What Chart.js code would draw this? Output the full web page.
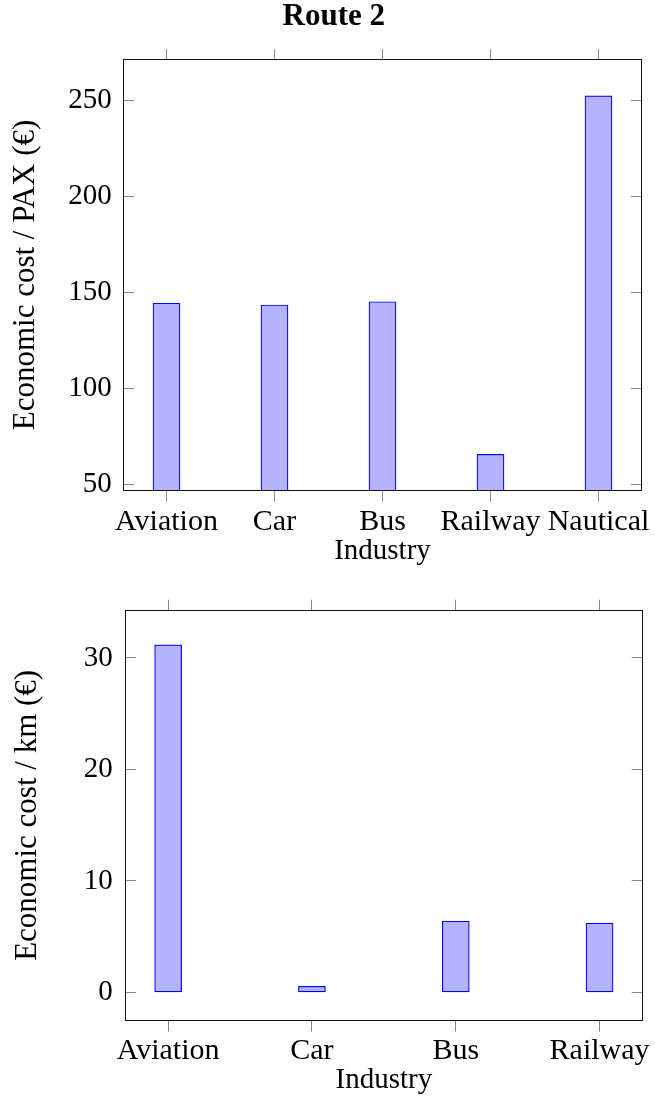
<!DOCTYPE html>
<html>
<head>
<meta charset="utf-8">
<script src="https://cdn.jsdelivr.net/npm/chart.js@4.4.1/dist/chart.umd.min.js"></script>
<style>
  body { margin: 0; background: #fff; }
  #wrap { position: relative; width: 655px; height: 1101px; }
  canvas { position: absolute; left: 0; }
</style>
</head>
<body>
<div id="wrap">
  <canvas id="chartPax" width="655" height="570" style="top:0"></canvas>
  <canvas id="chartKm" width="655" height="531" style="top:570px"></canvas>
</div>
<script>
// datos
const industriasPax = ["Aviation", "Car", "Bus", "Railway", "Nautical"];
const costePax = [144.3, 143.4, 145.1, 65.5, 252.5];
const ticksPax = [50, 100, 150, 200, 250];

const industriasKm = ["Aviation", "Car", "Bus", "Railway"];
const costeKm = [31.17, 0.54, 6.38, 6.21];
const ticksKm = [0, 10, 20, 30];

Chart.defaults.font.family = "'Liberation Serif', 'Times New Roman', serif";
Chart.defaults.color = "#000";

const GRIS = "#888";
const NEGRO = "#111";

function crearGrafica(id, cfg) {
    const n = cfg.labels.length;
    const xMin = -0.1 * (n - 1);
    const xMax = 1.1 * (n - 1);
    const ticksX = s => { s.ticks = cfg.labels.map((_, i) => ({ value: i })); };
    const ticksY = s => { s.ticks = cfg.yTicks.map(v => ({ value: v })); };

    const config = {
        type: "bar",
        data: {
            datasets: [{
                data: cfg.values.map((v, i) => ({ x: i, y: v })),
                backgroundColor: "#b3b3ff",
                borderColor: "#0000ff",
                borderWidth: 1.2,
                borderSkipped: cfg.yMin > 0 ? "start" : false,
                barThickness: 27,
                clip: 0
            }]
        },
        options: {
            responsive: false,
            animation: false,
            layout: { padding: cfg.padding },
            plugins: {
                legend: { display: false },
                tooltip: { enabled: false },
                title: cfg.title ? {
                    display: true,
                    text: cfg.title,
                    font: { size: 31, weight: "bold" },
                    padding: { top: -1.9, bottom: 13.7 }
                } : { display: false }
            },
            scales: {
                x: {
                    type: "linear", min: xMin, max: xMax, position: "bottom",
                    offset: false,
                    afterBuildTicks: ticksX,
                    afterFit: s => { s.height = cfg.xHeight; },
                    grid: { offset: false, drawOnChartArea: false, tickLength: 11.5, color: GRIS },
                    border: { color: NEGRO, z: 1 },
                    ticks: {
                        callback: (v, i) => cfg.labels[i],
                        autoSkip: false, maxRotation: 0,
                        padding: cfg.xPad, font: { size: 30 }
                    },
                    title: {
                        display: true, text: "Industry", font: { size: 29 },
                        padding: { top: 0, bottom: cfg.xTitlePad }
                    }
                },
                x2: {
                    type: "linear", axis: "x", min: xMin, max: xMax, position: "top",
                    offset: false,
                    afterBuildTicks: ticksX,
                    afterFit: s => { s.height = 11; },
                    grid: { offset: false, drawOnChartArea: false, tickLength: 11, color: GRIS },
                    border: { color: NEGRO, z: 1 },
                    ticks: { display: false }
                },
                y: {
                    type: "linear", min: cfg.yMin, max: cfg.yMax, position: "left",
                    afterBuildTicks: ticksY,
                    afterFit: s => { s.width = cfg.yWidth; },
                    grid: { drawOnChartArea: false, tickLength: -11, color: GRIS },
                    border: { color: NEGRO, z: 1 },
                    ticks: { padding: cfg.yPad, font: { size: 29 } },
                    title: {
                        display: true, text: cfg.yTitle, font: { size: 31 },
                        padding: { top: cfg.yTitlePad, bottom: 0 }
                    }
                },
                y2: {
                    type: "linear", axis: "y", min: cfg.yMin, max: cfg.yMax, position: "right",
                    afterBuildTicks: ticksY,
                    afterFit: s => { s.width = 0; },
                    grid: { drawOnChartArea: false, tickLength: -11, color: GRIS },
                    border: { color: NEGRO, z: 1 },
                    ticks: { display: false }
                }
            }
        }
    };
    return new Chart(document.getElementById(id), config);
}

crearGrafica("chartPax", {
    title: "Route 2",
    labels: industriasPax,
    values: costePax,
    yTicks: ticksPax,
    yMin: 46.87, yMax: 271.2,
    yTitle: "Economic cost / PAX (€)",
    padding: { left: 26, right: 13.3, top: 0, bottom: 0 },
    yWidth: 97.3, yPad: 22.6, yTitlePad: -18.6,
    xHeight: 80, xPad: 2.4, xTitlePad: 1.4
});

crearGrafica("chartKm", {
    title: null,
    labels: industriasKm,
    values: costeKm,
    yTicks: ticksKm,
    yMin: -2.48, yMax: 34.24,
    yTitle: "Economic cost / km (€)",
    padding: { left: 0, right: 12.3, top: 9, bottom: 0 },
    yWidth: 125, yPad: 23.3, yTitlePad: 9.2,
    xHeight: 81, xPad: 2.1, xTitlePad: 3.4
});
</script>
</body>
</html>
